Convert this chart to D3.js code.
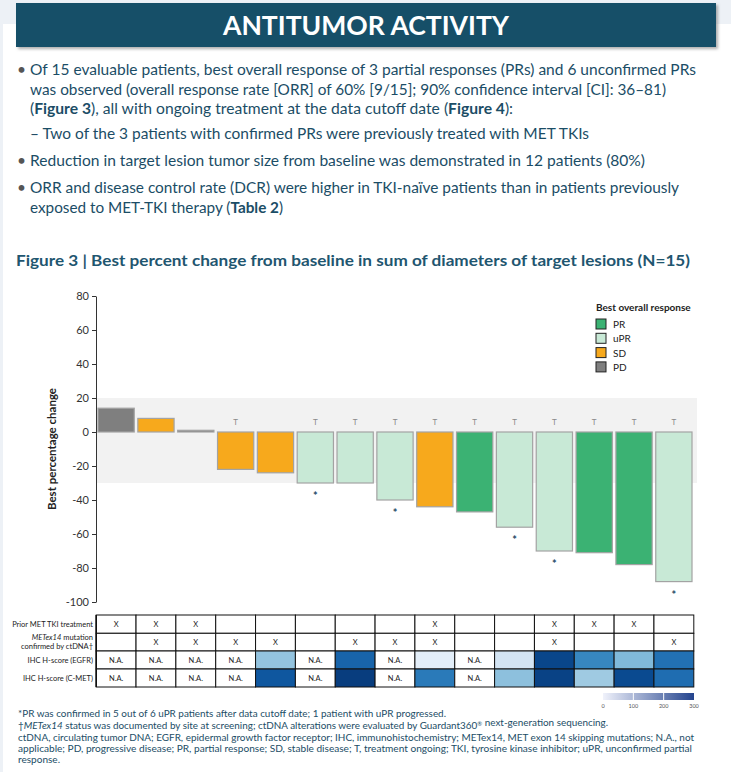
<!DOCTYPE html>
<html>
<head>
<meta charset="utf-8">
<script src="https://cdn.jsdelivr.net/npm/d3@7"></script>
<style>
  body { margin: 0; background: #edf1f6; }
  svg { display: block; }
</style>
</head>
<body>
<script>
// ---- data ----
const patientIds = d3.range(1, 16).map(String)
const bestChange = [14, 8, 1, -22, -24, -30, -30, -40, -44, -47, -56, -70, -71, -78, -88]
const bestResponse = ["PD", "SD", "PD", "SD", "SD", "uPR", "uPR", "uPR", "SD", "PR", "uPR", "uPR", "PR", "PR", "uPR"]
const treatmentOngoing = [0, 0, 0, 1, 0, 1, 1, 1, 1, 1, 1, 1, 1, 1, 1]
const prConfirmedLater = [0, 0, 0, 0, 0, 1, 0, 1, 0, 0, 1, 1, 0, 0, 1]
const priorMetTki = [1, 1, 1, 0, 0, 0, 0, 0, 1, 0, 0, 1, 1, 1, 0]
const metex14Ctdna = [0, 1, 1, 1, 1, 0, 1, 1, 1, 0, 0, 1, 0, 0, 1]
const egfrHScore = [null, null, null, null, 120, null, 240, null, 30, null, 55, 275, 200, 135, 225]
const cmetHScore = [null, null, null, null, 255, null, 285, null, 215, null, 125, 280, 110, 270, 230]
const responseCategories = ["PR", "uPR", "SD", "PD"]
const responseColors = ["#3bb273", "#c8e9d6", "#f7a91c", "#7f7f7f"]
const yTicks = [80, 60, 40, 20, 0, -20, -40, -60, -80, -100]
const hScoreTicks = [0, 100, 200, 300]

const bulletText = [
    [["• ", 0, "bullet"], ["Of 15 evaluable patients, best overall response of 3 partial responses (PRs) and 6 unconfirmed PRs", 0]],
    [["was observed (overall response rate [ORR] of 60% [9/15]; 90% confidence interval [CI]: 36–81)", 0]],
    [["(", 0], ["Figure 3", 1], ["), all with ongoing treatment at the data cutoff date (", 0], ["Figure 4", 1], ["):", 0]],
    [["– Two of the 3 patients with confirmed PRs were previously treated with MET TKIs", 0]],
    [["• ", 0, "bullet"], ["Reduction in target lesion tumor size from baseline was demonstrated in 12 patients (80%)", 0]],
    [["• ", 0, "bullet"], ["ORR and disease control rate (DCR) were higher in TKI-naïve patients than in patients previously", 0]],
    [["exposed to MET-TKI therapy (", 0], ["Table 2", 1], [")", 0]]
]
const bulletTargets = [667, 636, 483, 559, 616, 650, 253]

const footnoteText = [
    [["*PR was confirmed in 5 out of 6 uPR patients after data cutoff date; 1 patient with uPR progressed.", 0]],
    [["†", 0], ["METex14", 2], [" status was documented by site at screening; ctDNA alterations were evaluated by Guardant360", 0], ["®", 3], [" next-generation sequencing.", 0]],
    [["ctDNA, circulating tumor DNA; EGFR, epidermal growth factor receptor; IHC, immunohistochemistry; METex14, MET exon 14 skipping mutations; N.A., not", 0]],
    [["applicable; PD, progressive disease; PR, partial response; SD, stable disease; T, treatment ongoing; TKI, tyrosine kinase inhibitor; uPR, unconfirmed partial", 0]],
    [["response.", 0]]
]
const footnoteTargets = [428, 590, 676, 674, 42]

const rowLabels = [["Prior MET TKI treatment"], ["METex14 mutation", "confirmed by ctDNA†"], ["IHC H-score (EGFR)"], ["IHC H-score (C-MET)"]]

// ---- layout ----
const W = 731, H = 772
const FONT = "Lato, 'Open Sans', sans-serif"
const teal = "#1b4d66"

const svg = d3.select("body").append("svg")
    .attr("width", W)
    .attr("height", H)
    .style("font-family", FONT)

const defs = svg.append("defs")
defs.append("filter").attr("id", "shadow").attr("x", "-5%").attr("y", "-20%").attr("width", "110%").attr("height", "150%")
    .append("feDropShadow")
    .attr("dx", 2).attr("dy", 2).attr("stdDeviation", 1.5)
    .attr("flood-color", "#777").attr("flood-opacity", 0.6)

svg.append("rect").attr("width", W).attr("height", H).attr("fill", "#edf1f6")
svg.append("rect").attr("x", 3).attr("y", 24).attr("width", W - 3).attr("height", H - 24).attr("fill", "#fff")

// banner
svg.append("rect")
    .attr("x", 16).attr("y", 3).attr("width", 700).attr("height", 44)
    .attr("fill", "#175068")
    .attr("filter", "url(#shadow)")
svg.append("text")
    .attr("x", 366).attr("y", 35)
    .attr("text-anchor", "middle")
    .attr("fill", "#fff")
    .attr("font-size", 27)
    .attr("font-weight", 700)
    .attr("textLength", 286).attr("lengthAdjust", "spacingAndGlyphs")
    .text("ANTITUMOR ACTIVITY")

// writes lines of segments, stretched to the width each line has in the reference
const writeLines = (lines, targets, {x, ys, size, color, xs}) => {
    lines.forEach((segs, i) => {
        const t = svg.append("text")
            .attr("x", xs ? xs[i] : x)
            .attr("y", ys[i])
            .attr("font-size", size)
            .attr("fill", color)
        segs.forEach(([str, style, kind]) => {
            const span = t.append("tspan").text(str)
            if (style === 1) span.attr("font-weight", 700)
            if (style === 2) span.attr("font-style", "italic")
            if (style === 3) span.attr("font-size", size * 0.6).attr("dy", -size * 0.35)
            if (kind === "bullet") span.attr("fill", "#555")
        })
        if (targets[i]) {
            t.attr("textLength", targets[i]).attr("lengthAdjust", "spacingAndGlyphs")
        }
    })
}

writeLines(bulletText, bulletTargets.map((w, i) => [0, 4, 5].includes(i) ? w + 12 : w), {
    xs: [17, 30, 30, 30, 17, 17, 30],
    ys: [75, 95, 114, 139, 166, 193, 213],
    size: 15.2,
    color: teal
})

svg.append("text")
    .attr("x", 16).attr("y", 266)
    .attr("font-size", 15.5)
    .attr("font-weight", 700)
    .attr("fill", "#1f5670")
    .attr("textLength", 674).attr("lengthAdjust", "spacingAndGlyphs")
    .text("Figure 3 | Best percent change from baseline in sum of diameters of target lesions (N=15)")

// ---- waterfall chart ----
const x = d3.scaleBand()
    .domain(patientIds)
    .range([96, 694])
    .paddingInner(0.09)
    .paddingOuter(0.05)
const y = d3.scaleLinear().domain([-100, 80]).range([602, 296])
const color = d3.scaleOrdinal(responseCategories, responseColors)

const rows = patientIds.map((id, i) => ({
    id,
    change: bestChange[i],
    response: bestResponse[i],
    ongoing: treatmentOngoing[i],
    confirmed: prConfirmedLater[i]
}))

// stable-disease band
svg.append("rect")
    .attr("x", 96).attr("width", 601)
    .attr("y", y(20)).attr("height", y(-30) - y(20))
    .attr("fill", "#f2f2f2")

svg.append("g")
    .selectAll("rect")
    .data(rows)
    .join("rect")
    .attr("x", d => x(d.id))
    .attr("width", x.bandwidth())
    .attr("y", d => y(Math.max(0, d.change)))
    .attr("height", d => Math.abs(y(d.change) - y(0)))
    .attr("fill", d => color(d.response))
    .attr("stroke", "#a3a3a3")
    .attr("stroke-width", 1.2)

svg.append("g")
    .selectAll("text")
    .data(rows.filter(d => d.ongoing))
    .join("text")
    .attr("x", d => x(d.id) + x.bandwidth() / 2)
    .attr("y", y(6) + 3)
    .attr("text-anchor", "middle")
    .attr("font-size", 8)
    .attr("fill", "#8a8a8a")
    .text("T")

svg.append("g")
    .selectAll("text")
    .data(rows.filter(d => d.confirmed))
    .join("text")
    .attr("x", d => x(d.id) + x.bandwidth() / 2)
    .attr("y", d => y(d.change - 7) + 5)
    .attr("text-anchor", "middle")
    .attr("font-size", 11)
    .attr("font-weight", 700)
    .attr("fill", "#1f4a66")
    .text("*")

const yAxis = svg.append("g")
    .attr("transform", "translate(96,0)")
    .call(d3.axisLeft(y).tickValues(yTicks).tickFormat(d => String(d)).tickSize(4).tickPadding(3).tickSizeOuter(0))
yAxis.select(".domain").attr("stroke", "#333")
yAxis.selectAll(".tick line").attr("stroke", "#333")
yAxis.selectAll(".tick text")
    .attr("font-family", FONT)
    .attr("font-size", 11)
    .attr("fill", "#333")

svg.append("text")
    .attr("transform", `translate(56,${y(-10)}) rotate(-90)`)
    .attr("text-anchor", "middle")
    .attr("font-size", 11.5)
    .attr("font-weight", 700)
    .attr("fill", "#222")
    .text("Best percentage change")

// legend
const legend = svg.append("g").attr("transform", "translate(596,311)")
legend.append("text")
    .attr("font-size", 10)
    .attr("font-weight", 700)
    .attr("fill", "#222")
    .text("Best overall response")
const legendItem = legend.selectAll("g.item")
    .data(responseCategories)
    .join("g")
    .attr("class", "item")
    .attr("transform", (d, i) => `translate(0,${8 + i * 14.3})`)
legendItem.append("rect")
    .attr("width", 10).attr("height", 10)
    .attr("fill", d => color(d))
    .attr("stroke", "#222")
    .attr("stroke-width", 1)
legendItem.append("text")
    .attr("x", 17).attr("y", 9)
    .attr("font-size", 10)
    .attr("fill", "#222")
    .text(d => d)

// ---- annotation table ----
const rowTops = [615, 633.3, 651, 669, 687]
const colLeft = d => x(d) - x.step() * x.paddingInner() / 2
const heat = d3.scaleSequential(d3.interpolateBlues).domain([0, 300])

const tableRows = [
    {values: priorMetTki, kind: "mark"},
    {values: metex14Ctdna, kind: "mark"},
    {values: egfrHScore, kind: "heat"},
    {values: cmetHScore, kind: "heat"}
]

const table = svg.append("g")
tableRows.forEach((row, r) => {
    const top = rowTops[r], h = rowTops[r + 1] - rowTops[r]
    const cells = table.append("g")
        .selectAll("g")
        .data(patientIds.map((id, i) => ({id, v: row.values[i]})))
        .join("g")
    cells.append("rect")
        .attr("x", d => colLeft(d.id))
        .attr("y", top)
        .attr("width", x.step())
        .attr("height", h)
        .attr("fill", d => row.kind === "heat" && d.v != null ? heat(d.v) : "#fff")
        .attr("stroke", "#111")
        .attr("stroke-width", 1)
    cells.append("text")
        .attr("x", d => colLeft(d.id) + x.step() / 2)
        .attr("y", top + h / 2 + 2.6)
        .attr("text-anchor", "middle")
        .attr("font-size", 7.5)
        .attr("fill", "#222")
        .text(d => row.kind === "mark" ? (d.v ? "X" : "") : (d.v == null ? "N.A." : ""))

    const lines = rowLabels[r]
    const lab = table.append("text")
        .attr("x", 93)
        .attr("text-anchor", "end")
        .attr("font-size", 7.5)
        .attr("fill", "#222")
    lines.forEach((line, k) => {
        const span = lab.append("tspan")
            .attr("x", 93)
            .attr("y", top + h / 2 + 2.6 + (k - (lines.length - 1) / 2) * 9)
        if (line.startsWith("METex14")) {
            span.append("tspan").attr("font-style", "italic").text("METex14")
            span.append("tspan").text(line.slice(7))
        } else {
            span.text(line)
        }
    })
})
table.append("line")
    .attr("x1", colLeft("1")).attr("x2", colLeft("1"))
    .attr("y1", rowTops[0]).attr("y2", rowTops[4])
    .attr("stroke", "#111").attr("stroke-width", 1.6)

// H-score colour key
const keyScale = d3.scaleLinear().domain([0, 300]).range([603, 694])
const grad = defs.append("linearGradient").attr("id", "hkey")
grad.selectAll("stop")
    .data(hScoreTicks)
    .join("stop")
    .attr("offset", d => d / 300)
    .attr("stop-color", d => d3.interpolateRgb("#f0f2fb", "#24448e")(d / 300))
svg.append("rect")
    .attr("x", keyScale(0)).attr("y", 693)
    .attr("width", keyScale(300) - keyScale(0)).attr("height", 7)
    .attr("fill", "url(#hkey)")
svg.append("g")
    .selectAll("line")
    .data([100, 200])
    .join("line")
    .attr("x1", keyScale).attr("x2", keyScale)
    .attr("y1", 693).attr("y2", 700)
    .attr("stroke", "#fff").attr("stroke-width", 1)
svg.append("g")
    .selectAll("text")
    .data(hScoreTicks)
    .join("text")
    .attr("x", keyScale)
    .attr("y", 708)
    .attr("text-anchor", "middle")
    .attr("font-size", 5.5)
    .attr("fill", "#555")
    .text(d => d)

// footnotes
writeLines(footnoteText, footnoteTargets, {
    x: 18,
    ys: [717, 729, 741, 752, 763],
    size: 9.2,
    color: teal
})
</script>
</body>
</html>
